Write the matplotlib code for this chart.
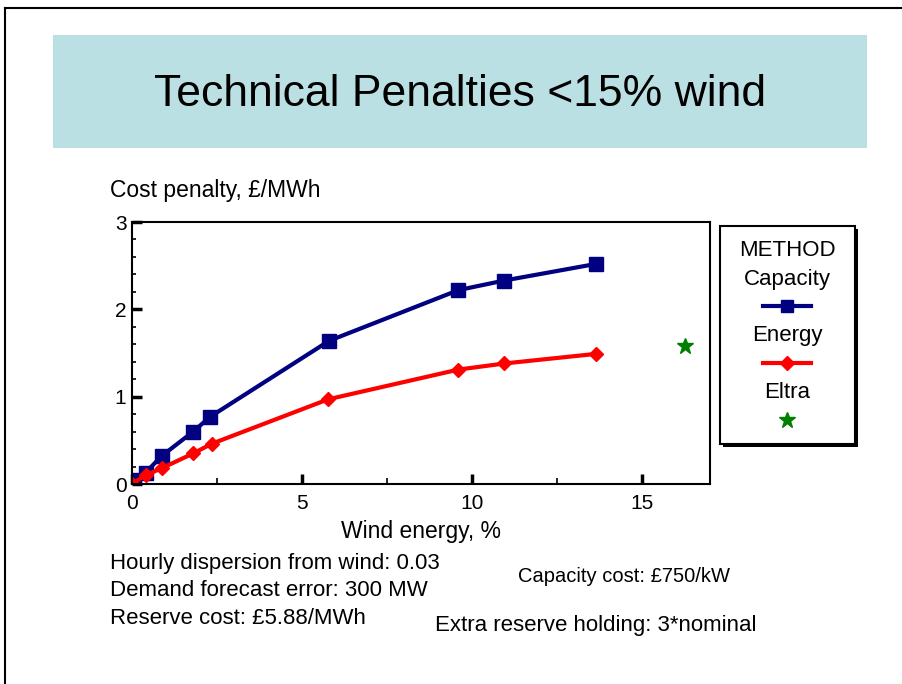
import matplotlib
matplotlib.use('Agg')
import matplotlib.pyplot as plt
from matplotlib.lines import Line2D
from matplotlib.patches import Rectangle
from matplotlib.ticker import MultipleLocator

plt.rcParams.update({'font.family': 'Liberation Sans', 'font.size': 12})

# data
capacity_x = [0.05, 0.4, 0.87, 1.8, 2.3, 5.8, 9.6, 10.95, 13.65]
capacity_y = [0.05, 0.13, 0.32, 0.6, 0.77, 1.64, 2.22, 2.33, 2.52]
energy_x = [0.0, 0.4, 0.87, 1.8, 2.34, 5.77, 9.6, 10.95, 13.65]
energy_y = [0.0, 0.1, 0.18, 0.35, 0.46, 0.97, 1.31, 1.38, 1.49]
eltra_x = [16.25]
eltra_y = [1.58]

title = 'Technical Penalties <15% wind'
notes_left = ['Hourly dispersion from wind: 0.03',
              'Demand forecast error: 300 MW',
              'Reserve cost: £5.88/MWh']

W, H = 902, 684
fig = plt.figure(figsize=(W / 100, H / 100), dpi=100)


def fx(px):
    return px / W


def fy(py):
    return 1 - py / H


# slide frame
fig.add_artist(Line2D([fx(5), fx(5)], [fy(8), 0], color='k', lw=1.5))
fig.add_artist(Line2D([fx(5), 1], [fy(8), fy(8)], color='k', lw=1.5))

# title banner
fig.add_artist(Rectangle((fx(53), fy(148)), fx(867) - fx(53), fy(35) - fy(148),
                         facecolor='#bbe0e3', edgecolor='none'))
fig.text(fx(460), fy(94), title, ha='center', va='center', fontsize=32)

# main axes
ax = fig.add_axes([fx(132), fy(484), fx(710) - fx(132), fy(222) - fy(484)])
ax.plot(capacity_x, capacity_y, color='#000080', lw=3, marker='s', markersize=10)
ax.plot(energy_x, energy_y, color='#ff0000', lw=3, marker='D', markersize=7)
ax.plot(eltra_x, eltra_y, ls='none', color='#008000', marker='*', markersize=12)

ax.set_xlim(0, 17)
ax.set_ylim(0, 3)
ax.xaxis.set_major_locator(MultipleLocator(5))
ax.xaxis.set_minor_locator(MultipleLocator(2.5))
ax.yaxis.set_major_locator(MultipleLocator(1))
ax.yaxis.set_minor_locator(MultipleLocator(0.2))
ax.tick_params(which='both', direction='in', labelsize=15)
ax.tick_params(which='major', length=7, width=2.5)
ax.tick_params(which='minor', length=4, width=1.2)
ax.tick_params(axis='y', which='minor', length=3)
ax.tick_params(axis='x', pad=7)
ax.tick_params(axis='y', pad=4)
for s in ax.spines.values():
    s.set_linewidth(1.5)
ax.set_xlabel('Wind energy, %', fontsize=16.5, labelpad=5)
fig.text(fx(110), fy(191), 'Cost penalty, £/MWh', ha='left', va='center', fontsize=16.5)

# legend box
lx0, lx1, ly0, ly1 = 720, 855, 226, 444
fig.add_artist(Rectangle((fx(lx0 + 3), fy(ly1 + 3)), fx(lx1) - fx(lx0), fy(ly0) - fy(ly1),
                         facecolor='k', edgecolor='none'))
fig.add_artist(Rectangle((fx(lx0), fy(ly1)), fx(lx1) - fx(lx0), fy(ly0) - fy(ly1),
                         facecolor='white', edgecolor='k', lw=1.5))
cx = 787
fig.text(fx(cx), fy(251), 'METHOD', ha='center', va='center', fontsize=16)
fig.text(fx(cx), fy(280), 'Capacity', ha='center', va='center', fontsize=16)
fig.add_artist(Line2D([fx(cx - 24), fx(cx), fx(cx + 24)], [fy(306)] * 3, color='#000080', lw=3,
                      marker='s', markersize=9, markevery=[1]))
fig.text(fx(cx), fy(336), 'Energy', ha='center', va='center', fontsize=16)
fig.add_artist(Line2D([fx(cx - 24), fx(cx), fx(cx + 24)], [fy(363)] * 3, color='#ff0000', lw=3,
                      marker='D', markersize=7, markevery=[1]))
fig.text(fx(cx), fy(392), 'Eltra', ha='center', va='center', fontsize=16)
fig.add_artist(Line2D([fx(cx)], [fy(420)], color='#008000', ls='none', marker='*', markersize=12))

# notes
for i, t in enumerate(notes_left):
    fig.text(fx(110), fy(563 + i * 28), t, ha='left', va='center', fontsize=16)
fig.text(fx(518), fy(576), 'Capacity cost: £750/kW', ha='left', va='center', fontsize=14.5)
fig.text(fx(435), fy(625), 'Extra reserve holding: 3*nominal', ha='left', va='center', fontsize=16)

fig.savefig('out.png', dpi=100)
